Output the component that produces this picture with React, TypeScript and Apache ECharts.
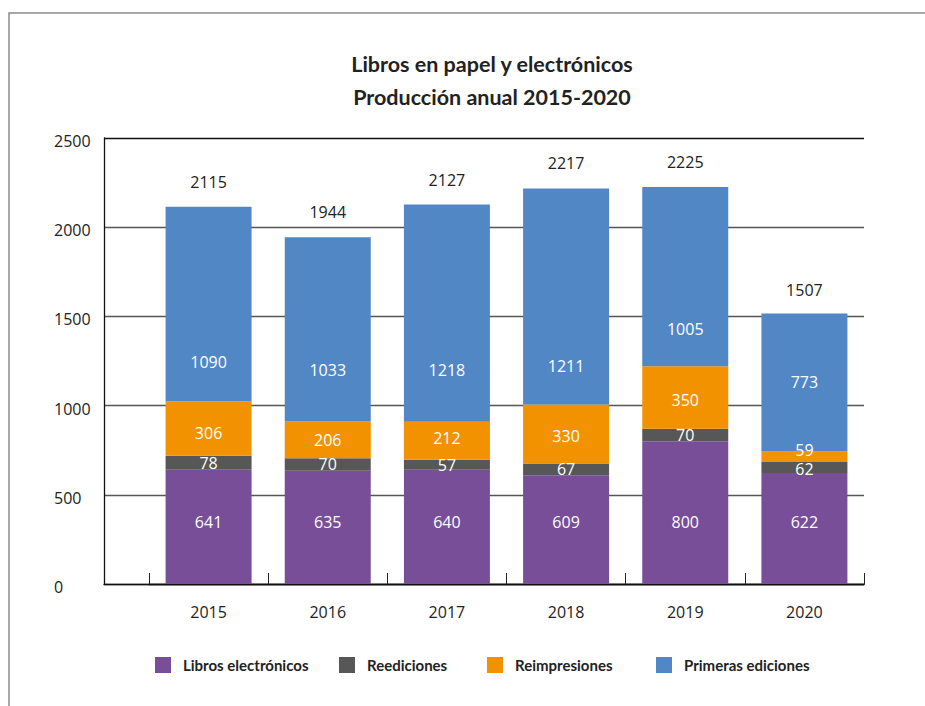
import React, { useEffect, useRef } from "react";
import * as echarts from "echarts";

const years = ["2015", "2016", "2017", "2018", "2019", "2020"];
const librosElectronicos = [641, 635, 640, 609, 800, 622];
const reediciones = [78, 70, 57, 67, 70, 62];
const reimpresiones = [306, 206, 212, 330, 350, 59];
const primerasEdiciones = [1090, 1033, 1218, 1211, 1005, 773];
const totals = [2115, 1944, 2127, 2217, 2225, 1507];
const yTicks = { min: 0, max: 2500, interval: 500 };

const seriesNames = ["Libros electrónicos", "Reediciones", "Reimpresiones", "Primeras ediciones"];
const colors = ["#784e99", "#575757", "#f29200", "#5287c6"];
const legendLefts = [155, 339, 487, 656];
// vertical label nudges (px) per series, per year, as placed in the reference
const labelNudges = [
  [0, 0, 0, 0, 0, 0],
  [0, 0, 0, 0, 0, 1],
  [5, 0, -3, 2, 2, -7],
  [58, 41, 57, 69, 52, 0],
];

const NUM_FONT = "Open Sans";
const TXT_FONT = "Lato";

export default function App() {
  const ref = useRef<HTMLDivElement>(null);
  useEffect(() => {
    if (!ref.current) return;
    const chart = echarts.init(ref.current, null, { renderer: "svg" });
    const dataSets = [librosElectronicos, reediciones, reimpresiones, primerasEdiciones];
    const stacked = dataSets.map((arr, i) => ({
      name: seriesNames[i],
      type: "bar",
      stack: "total",
      xAxisIndex: 1,
      yAxisIndex: 1,
      barWidth: 86,
      barGap: "-100%",
      itemStyle: { color: colors[i] },
      label:
        i === 0
          ? {
              show: true,
              position: "insideBottom",
              distance: 54,
              color: "#ffffff",
              fontSize: 16,
              fontFamily: NUM_FONT,
            }
          : {
              show: true,
              position: "inside",
              color: "#ffffff",
              fontSize: 16,
              fontFamily: NUM_FONT,
            },
      data: arr.map((v, j) =>
        labelNudges[i][j] !== 0 ? { value: v, label: { offset: [0, labelNudges[i][j]] } } : v
      ),
      z: 3,
    }));
    chart.setOption({
      animation: false,
      backgroundColor: "#ffffff",
      title: {
        text: "Libros en papel y electrónicos\nProducción anual 2015-2020",
        left: 487,
        top: 42,
        textAlign: "center",
        textStyle: {
          fontFamily: TXT_FONT,
          fontWeight: "bold",
          fontSize: 21.5,
          lineHeight: 33,
          color: "#222222",
        },
      },
      graphic: [
        {
          type: "polyline",
          shape: { points: [[9, 706], [9, 13], [925, 13]] },
          style: { stroke: "#8a8a8a", lineWidth: 1.5, fill: null },
          silent: true,
        },
      ],
      legend: seriesNames.map((n, i) => ({
        data: [n],
        left: legendLefts[i],
        top: 657,
        padding: 0,
        itemWidth: 16,
        itemHeight: 16,
        icon: "rect",
        selectedMode: false,
        textStyle: {
          fontFamily: TXT_FONT,
          fontWeight: "bold",
          fontSize: 15,
          color: "#222222",
          padding: [0, 0, 0, 7],
        },
      })),
      grid: [
        { left: 104, right: 61, top: 138, bottom: 122 },
        { left: 149, right: 61, top: 138, bottom: 122 },
      ],
      xAxis: [
        {
          type: "value",
          gridIndex: 0,
          min: 0,
          max: 1,
          axisLine: { show: true, lineStyle: { color: "#111111", width: 1.3 } },
          axisTick: { show: false },
          axisLabel: { show: false },
          splitLine: { show: false },
        },
        {
          type: "category",
          gridIndex: 1,
          data: years,
          axisLine: { show: true, lineStyle: { color: "#111111", width: 1.3 } },
          axisTick: { show: true, inside: true, length: 11, lineStyle: { color: "#222222", width: 1 } },
          axisLabel: { margin: 20, fontSize: 16, fontFamily: NUM_FONT, color: "#222222" },
          splitLine: { show: false },
        },
      ],
      yAxis: [
        {
          type: "value",
          gridIndex: 0,
          min: yTicks.min,
          max: yTicks.max,
          interval: yTicks.interval,
          axisLine: { show: true, lineStyle: { color: "#111111", width: 1.3 } },
          axisTick: { show: false },
          axisLabel: {
            align: "left",
            margin: 50,
            fontSize: 16,
            fontFamily: NUM_FONT,
            color: "#222222",
            formatter: (v: number) => "{a|" + v + "}",
            rich: {
              a: {
                fontSize: 16,
                fontFamily: NUM_FONT,
                color: "#222222",
                padding: [6, 0, 0, 0],
              },
            },
          },
          splitLine: {
            show: true,
            lineStyle: {
              color: ["#555555", "#555555", "#555555", "#555555", "#555555", "#111111"],
              width: 1.3,
            },
          },
        },
        {
          type: "value",
          gridIndex: 1,
          min: yTicks.min,
          max: yTicks.max,
          interval: yTicks.interval,
          show: false,
          splitLine: { show: false },
        },
      ],
      series: [
        ...stacked,
        {
          name: "Total",
          type: "bar",
          xAxisIndex: 1,
          yAxisIndex: 1,
          barWidth: 86,
          barGap: "-100%",
          silent: true,
          itemStyle: { color: "rgba(0,0,0,0)" },
          label: {
            show: true,
            position: "top",
            distance: 17,
            color: "#222222",
            fontSize: 16,
            fontFamily: NUM_FONT,
          },
          data: totals,
          z: 1,
        },
      ],
    });
    return () => chart.dispose();
  }, []);
  return (
    <div
      ref={ref}
      style={{ position: "fixed", left: 0, top: 0, width: 925, height: 706 }}
    />
  );
}
